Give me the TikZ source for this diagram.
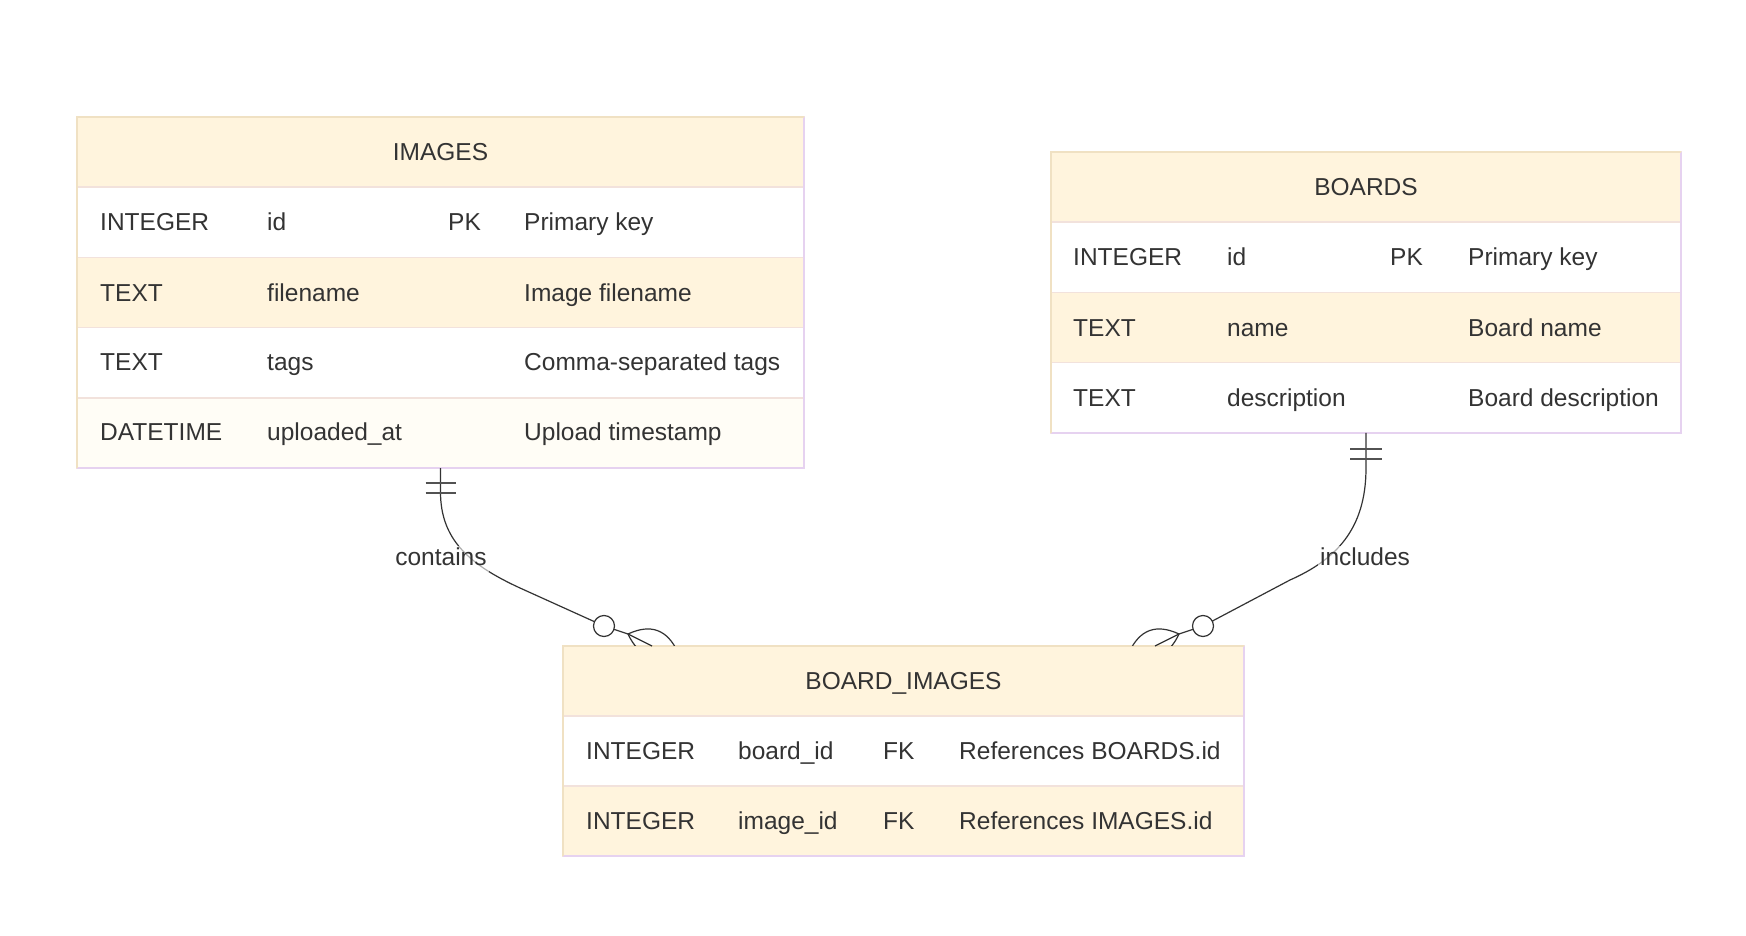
\documentclass[tikz,border=0pt]{standalone}
\usepackage{fontspec}
\setmainfont{Liberation Sans}
\usepackage{xcolor}
\usetikzlibrary{positioning}

\definecolor{hdrcream}{HTML}{FFF4DD}
\definecolor{rowpale}{HTML}{FFFDF6}
\definecolor{rowline}{HTML}{F2E2DC}
\definecolor{edgetan}{HTML}{F0E1C3}
\definecolor{edgelilac}{HTML}{E6D2F0}
\definecolor{inkgray}{HTML}{333333}

\begin{document}
\begin{tikzpicture}[x=1pt, y=-1pt,
  font=\fontsize{24.5}{29}\selectfont,
  every node/.style={text=inkgray},
  tbl/.style={rectangle, draw=rowline, line width=1.5pt, inner sep=0pt, outer sep=0pt,
    minimum height=70pt, text height=17.5pt, text depth=0pt},
  cell/.style={anchor=west, inner sep=0pt, text height=17.5pt, text depth=0pt},
  rel/.style={draw=inkgray, line width=1.2pt},
  bar/.style={draw=inkgray!85, line width=1.2pt},
  lbl/.style={fill=white, fill opacity=0.6, text opacity=1, inner sep=2pt,
    text height=17.5pt, text depth=5pt}]
  \useasboundingbox (0,0) rectangle (1746,936);
  \fill[white] (0,0) rectangle (1746,936);

  % IMAGES table
  \node[tbl, fill=hdrcream, minimum width=727pt] (imghdr) at (440.5,152) {IMAGES};
  \node[tbl, fill=white, minimum width=727pt, minimum height=70.3pt, below=0pt of imghdr] (imgrow1) {};
  \node[tbl, fill=hdrcream, minimum width=727pt, minimum height=70.3pt, below=0pt of imgrow1] (imgrow2) {};
  \node[tbl, fill=white, minimum width=727pt, minimum height=70.3pt, below=0pt of imgrow2] (imgrow3) {};
  \node[tbl, fill=rowpale, minimum width=727pt, minimum height=70.3pt, below=0pt of imgrow3] (imgrow4) {};
  \draw[line width=1.5pt, edgelilac] (imghdr.north east) -- (imgrow4.south east) -- (imgrow4.south west);
  \draw[line width=1.5pt, edgetan] (imgrow4.south west) -- (imghdr.north west) -- (imghdr.north east);

  \node[cell] (img1a) at ([xshift=23pt]imgrow1.west) {INTEGER};
  \node[cell] (img1b) at ([xshift=190pt]imgrow1.west) {id};
  \node[cell] (img1c) at ([xshift=371pt]imgrow1.west) {PK};
  \node[cell] (img1d) at ([xshift=447pt]imgrow1.west) {Primary key};
  \node[cell] (img2a) at ([xshift=23pt]imgrow2.west) {TEXT};
  \node[cell] (img2b) at ([xshift=190pt]imgrow2.west) {filename};
  \node[cell] (img2d) at ([xshift=447pt]imgrow2.west) {Image filename};
  \node[cell] (img3a) at ([xshift=23pt,yshift=1pt]imgrow3.west) {TEXT};
  \node[cell] (img3b) at ([xshift=190pt,yshift=1pt]imgrow3.west) {tags};
  \node[cell] (img3d) at ([xshift=447pt,yshift=1pt]imgrow3.west) {Comma-separated tags};
  \node[cell] (img4a) at ([xshift=23pt,yshift=1pt]imgrow4.west) {DATETIME};
  \node[cell] (img4b) at ([xshift=190pt,yshift=1pt]imgrow4.west) {uploaded\_at};
  \node[cell] (img4d) at ([xshift=447pt,yshift=1pt]imgrow4.west) {Upload timestamp};

  % BOARDS table
  \node[tbl, fill=hdrcream, minimum width=630pt] (brdhdr) at (1366,187) {BOARDS};
  \node[tbl, fill=white, minimum width=630pt, minimum height=70.3pt, below=0pt of brdhdr] (brdrow1) {};
  \node[tbl, fill=hdrcream, minimum width=630pt, minimum height=70.3pt, below=0pt of brdrow1] (brdrow2) {};
  \node[tbl, fill=white, minimum width=630pt, minimum height=70.3pt, below=0pt of brdrow2] (brdrow3) {};
  \draw[line width=1.5pt, edgelilac] (brdhdr.north east) -- (brdrow3.south east) -- (brdrow3.south west);
  \draw[line width=1.5pt, edgetan] (brdrow3.south west) -- (brdhdr.north west) -- (brdhdr.north east);

  \node[cell] (brd1a) at ([xshift=22pt]brdrow1.west) {INTEGER};
  \node[cell] (brd1b) at ([xshift=176pt]brdrow1.west) {id};
  \node[cell] (brd1c) at ([xshift=339pt]brdrow1.west) {PK};
  \node[cell] (brd1d) at ([xshift=417pt]brdrow1.west) {Primary key};
  \node[cell] (brd2a) at ([xshift=22pt]brdrow2.west) {TEXT};
  \node[cell] (brd2b) at ([xshift=176pt]brdrow2.west) {name};
  \node[cell] (brd2d) at ([xshift=417pt]brdrow2.west) {Board name};
  \node[cell] (brd3a) at ([xshift=22pt]brdrow3.west) {TEXT};
  \node[cell] (brd3b) at ([xshift=176pt]brdrow3.west) {description};
  \node[cell] (brd3d) at ([xshift=417pt]brdrow3.west) {Board description};

  % BOARD_IMAGES table
  \node[tbl, fill=hdrcream, minimum width=681pt] (bihdr) at (903.5,681) {BOARD\_IMAGES};
  \node[tbl, fill=white, minimum width=681pt, below=0pt of bihdr] (birow1) {};
  \node[tbl, fill=hdrcream, minimum width=681pt, below=0pt of birow1] (birow2) {};
  \draw[line width=1.5pt, edgelilac] (bihdr.north east) -- (birow2.south east) -- (birow2.south west);
  \draw[line width=1.5pt, edgetan] (birow2.south west) -- (bihdr.north west) -- (bihdr.north east);

  \node[cell] (bi1a) at ([xshift=23pt]birow1.west) {INTEGER};
  \node[cell] (bi1b) at ([xshift=175pt]birow1.west) {board\_id};
  \node[cell] (bi1c) at ([xshift=320pt]birow1.west) {FK};
  \node[cell] (bi1d) at ([xshift=396pt]birow1.west) {References BOARDS.id};
  \node[cell] (bi2a) at ([xshift=23pt]birow2.west) {INTEGER};
  \node[cell] (bi2b) at ([xshift=175pt]birow2.west) {image\_id};
  \node[cell] (bi2c) at ([xshift=320pt]birow2.west) {FK};
  \node[cell] (bi2d) at ([xshift=396pt]birow2.west) {References IMAGES.id};

  % IMAGES to BOARD_IMAGES
  \coordinate (imgcirc) at (604,626);
  \coordinate (imgend) at ([xshift=-251.5pt]bihdr.north);
  \draw[rel] (imgrow4.south) -- (440.5,492) .. controls (440.5,540) and (470,565) .. (520,588)
    -- (imgcirc) -- (628,634) -- (imgend);
  \draw[bar] (425.5,483) -- (455.5,483) (425.5,493) -- (455.5,493);
  \begin{scope}
    \clip (0,0) rectangle (1746,645);
    \draw[rel, shift={(628,634)}, rotate=-20] (0,0) .. controls (17.7,-17.7) and (35.3,-17.7) .. (53,0)
      .. controls (35.3,17.7) and (17.7,17.7) .. cycle;
  \end{scope}
  \draw[rel, fill=white] (imgcirc) circle (10.5pt);
  \node[lbl] (contains) at (441,559) {contains};

  % BOARDS to BOARD_IMAGES
  \coordinate (brdcirc) at (1203,626);
  \coordinate (brdend) at ([xshift=251.5pt]bihdr.north);
  \draw[rel] (brdrow3.south) -- (1366,468) .. controls (1366,530) and (1335,560) .. (1290,580)
    -- (brdcirc) -- (1179,634) -- (brdend);
  \draw[bar] (1350,449) -- (1382,449) (1350,459) -- (1382,459);
  \begin{scope}
    \clip (0,0) rectangle (1746,645);
    \draw[rel, shift={(1179,634)}, xscale=-1, rotate=-20] (0,0) .. controls (17.7,-17.7) and (35.3,-17.7) .. (53,0)
      .. controls (35.3,17.7) and (17.7,17.7) .. cycle;
  \end{scope}
  \draw[rel, fill=white] (brdcirc) circle (10.5pt);
  \node[lbl] (includes) at (1365,559) {includes};
\end{tikzpicture}
\end{document}
